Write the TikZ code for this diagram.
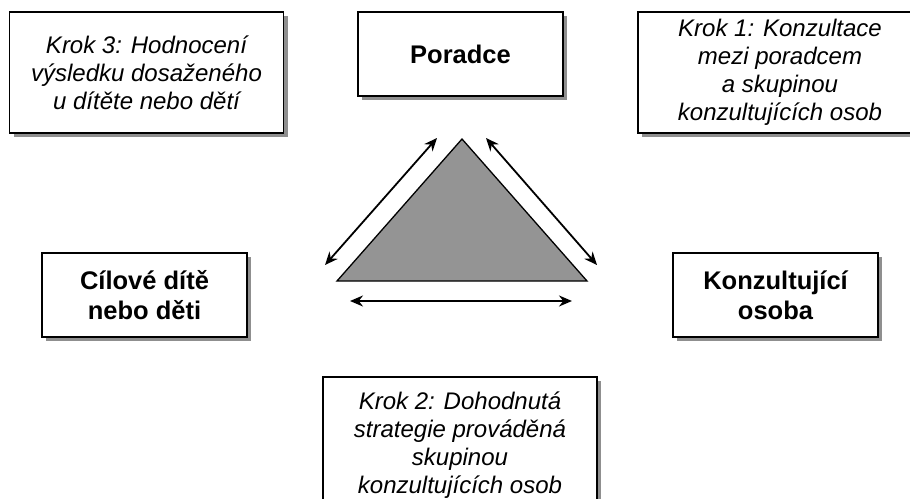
\documentclass[tikz,border=0pt]{standalone}
\usepackage{fontspec}
\setmainfont{Liberation Sans}
\usetikzlibrary{arrows.meta,shadows}

\begin{document}
\begin{tikzpicture}[
  x=1pt, y=-1pt,
  >={Stealth[length=13pt,width=11pt]},
  box/.style={
    rectangle, draw=black, line width=1.1pt, fill=white,
    drop shadow={shadow xshift=4pt, shadow yshift=-4pt, fill=black!55, opacity=0.8},
    align=center, inner sep=0pt
  },
  role/.style={box, minimum width=205pt, minimum height=84pt,
    font=\fontsize{25.5}{30}\selectfont\bfseries},
  krok/.style={box, minimum width=274pt, minimum height=121pt,
    font=\fontsize{24}{28}\selectfont\itshape},
  link/.style={<->, line width=1.8pt}
]
\useasboundingbox (0,0) rectangle (910,498);
\clip (0,0) rectangle (910,498);

% role boxes
\node[role] (poradce) at (460.5,54) {Poradce};
\node[role] (dite) at (144.5,295) {Cílové dítě\\ nebo děti};
\node[role] (osoba) at (775.5,295) {Konzultující\\ osoba};

% step boxes
\node[krok] (krok3) at (146.5,72.5)
  {Krok 3: Hodnocení\\výsledku dosaženého\\u dítěte nebo dětí};
\node[krok, minimum width=284pt] (krok1) at (780,72.5)
  {Krok 1: Konzultace\\mezi poradcem\\a skupinou\\konzultujících osob};
\node[krok, minimum height=136pt] (krok2) at (460,445)
  {Krok 2: Dohodnutá\\strategie prováděná\\skupinou\\konzultujících osob};

% triangle
\coordinate (apex) at (462,139);
\coordinate (bl) at (337,281);
\coordinate (br) at (587,281);
\draw[line width=1.3pt, fill=black!42, line join=miter] (apex) -- (bl) -- (br) -- cycle;

% arrows along the sides
\coordinate (l1) at (325,265);
\coordinate (l2) at (437,138);
\coordinate (r1) at (486,138);
\coordinate (r2) at (597,265);
\coordinate (b1) at (350,301);
\coordinate (b2) at (572,301);
\draw[link] (l1) -- (l2);
\draw[link] (r1) -- (r2);
\draw[link] (b1) -- (b2);

\end{tikzpicture}
\end{document}
